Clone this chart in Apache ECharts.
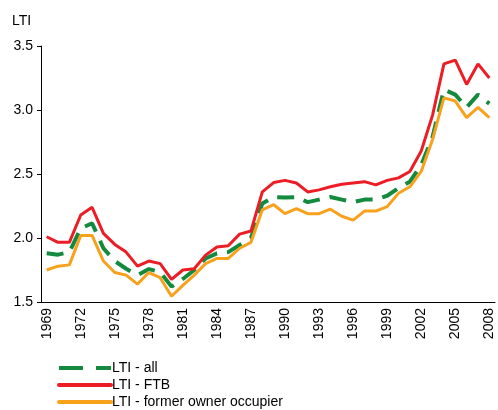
<!DOCTYPE html>
<html>
<head>
<meta charset="utf-8">
<script src="https://cdn.jsdelivr.net/npm/echarts@6/dist/echarts.min.js"></script>
<style>html,body{margin:0;padding:0;background:#fff}#c{width:498px;height:410px}</style>
</head>
<body>
<div id="c"></div>
<script>
var years = [];
for (var y = 1969; y <= 2008; y++) years.push(String(y));
var seriesNames = ['LTI - all', 'LTI - FTB', 'LTI - former owner occupier'];
var ltiAll = [1.88,1.87,1.89,2.075,2.115,1.92,1.82,1.76,1.71,1.757,1.735,1.62,1.68,1.75,1.84,1.88,1.89,1.945,2.0,2.27,2.32,2.316,2.32,2.28,2.30,2.32,2.30,2.28,2.30,2.30,2.33,2.39,2.44,2.57,2.79,3.16,3.12,3.02,3.12,3.05];
var ltiFTB = [2.01,1.966,1.966,2.18,2.24,2.036,1.95,1.89,1.78,1.82,1.80,1.676,1.75,1.76,1.866,1.93,1.94,2.03,2.055,2.36,2.433,2.45,2.43,2.36,2.376,2.40,2.42,2.43,2.44,2.415,2.45,2.47,2.52,2.68,2.96,3.36,3.39,3.20,3.36,3.25];
var ltiFormer = [1.75,1.78,1.79,2.02,2.02,1.82,1.73,1.71,1.64,1.73,1.69,1.545,1.63,1.71,1.80,1.84,1.84,1.92,1.966,2.22,2.26,2.19,2.23,2.19,2.19,2.225,2.17,2.14,2.21,2.21,2.245,2.35,2.40,2.52,2.77,3.095,3.07,2.94,3.02,2.94];
var yTicks = {min: 1.5, max: 3.5, step: 0.5};

var font = 'Liberation Sans, Arial, sans-serif';
var chart = echarts.init(document.getElementById('c'));
chart.setOption({
  animation: false,
  backgroundColor: '#fff',
  title: {
    text: 'LTI', left: 12, top: 14, padding: 0,
    textStyle: {fontSize: 14, fontWeight: 'normal', color: '#000', fontFamily: font}
  },
  grid: {left: 41, right: 3, top: 46, bottom: 108},
  legend: {
    orient: 'vertical', left: 57, top: 361, padding: 0, height: 60,
    itemWidth: 52, itemHeight: 14, itemGap: 3,
    itemStyle: {opacity: 0},
    textStyle: {fontSize: 14, color: '#000', fontFamily: font, padding: [0,0,0,-4]},
    data: [
      {name: seriesNames[0], lineStyle: {width: 4, type: [24, 13], cap: 'butt'}},
      {name: seriesNames[1], lineStyle: {width: 4, cap: 'round'}},
      {name: seriesNames[2], lineStyle: {width: 4, cap: 'round'}}
    ]
  },
  xAxis: {
    type: 'category', data: years, boundaryGap: true,
    axisLine: {lineStyle: {color: '#000', width: 1}},
    axisTick: {interval: 0, length: 5, lineStyle: {color: '#000'}},
    axisLabel: {interval: 2, rotate: 90, margin: 6, fontSize: 14, color: '#000', fontFamily: font}
  },
  yAxis: {
    type: 'value', min: yTicks.min, max: yTicks.max, interval: yTicks.step,
    axisLine: {show: true, lineStyle: {color: '#000', width: 1}},
    axisTick: {show: true, length: 4, lineStyle: {color: '#000'}},
    splitLine: {show: false},
    axisLabel: {fontSize: 14, color: '#000', fontFamily: font, margin: 8,
      formatter: function (v) { return v.toFixed(1); }}
  },
  series: [
    {name: seriesNames[0], type: 'line', data: ltiAll, symbol: 'none',
     lineStyle: {color: '#138a3d', width: 4, type: [17, 10]}, itemStyle: {color: '#138a3d'}, z: 2},
    {name: seriesNames[1], type: 'line', data: ltiFTB, symbol: 'none',
     lineStyle: {color: '#ec1d25', width: 3}, itemStyle: {color: '#ec1d25'}, z: 3},
    {name: seriesNames[2], type: 'line', data: ltiFormer, symbol: 'none',
     lineStyle: {color: '#f8a11d', width: 3}, itemStyle: {color: '#f8a11d'}, z: 4}
  ]
});
</script>
</body>
</html>
